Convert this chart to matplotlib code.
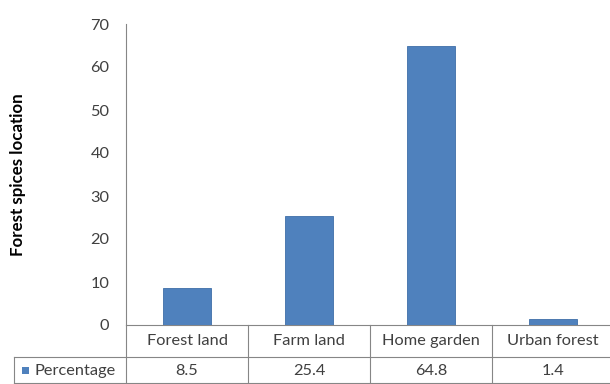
import matplotlib
matplotlib.use("Agg")
import matplotlib.pyplot as plt
from matplotlib.transforms import blended_transform_factory
from matplotlib.patches import Rectangle

categories = ["Forest land", "Farm land", "Home garden", "Urban forest"]
percentage = [8.5, 25.4, 64.8, 1.4]
series_name = "Percentage"
y_ticks = [0, 10, 20, 30, 40, 50, 60, 70]
y_label = "Forest spices location"

plt.rcParams["font.family"] = ["Lato", "DejaVu Sans"]

W, H = 610, 384
fig = plt.figure(figsize=(W / 100, H / 100), dpi=100)

def fx(px):
    return px / W

def fy(py):
    return 1 - py / H

ax_left, ax_right, ax_top, ax_bottom = 126, 614, 24, 325
ax = fig.add_axes([fx(ax_left), fy(ax_bottom), fx(ax_right - ax_left), (ax_bottom - ax_top) / H])

bar_color = "#4F81BD"
text_color = "#404040"
fs = 11.8
x = list(range(len(categories)))
ax.bar(x, percentage, width=0.4, color=bar_color, edgecolor="#3E6EA8", linewidth=0.6, zorder=3)

ax.set_xlim(-0.5, len(categories) - 0.5)
ax.set_ylim(0, 70)
ax.set_yticks(y_ticks)
ax.set_yticklabels([str(t) for t in y_ticks], fontsize=fs, color=text_color)
ax.tick_params(axis="y", length=0, pad=12)
ax.set_xticks([])
for s in ["top", "right"]:
    ax.spines[s].set_visible(False)
for s in ["left", "bottom"]:
    ax.spines[s].set_color("#868686")
    ax.spines[s].set_linewidth(0.8)

fig.text(fx(18), fy(175), y_label, rotation=90, ha="center", va="center",
         fontsize=12.2, fontweight="bold", color="#000000")

# data table below the axes
grid_color = "#868686"
tr = blended_transform_factory(ax.transData, fig.transFigure)
row1_top, row2_top, row2_bottom = 325, 357, 383

def line(xs, ys, transform):
    fig.add_artist(plt.Line2D(xs, ys, transform=transform,
                              color=grid_color, linewidth=0.8, clip_on=False))

line([fx(14), 1.0], [fy(row2_top)] * 2, fig.transFigure)
line([fx(14), 1.0], [fy(row2_bottom)] * 2, fig.transFigure)
line([fx(126)] * 2, [fy(row1_top), fy(H)], fig.transFigure)
line([fx(14)] * 2, [fy(row2_top), fy(row2_bottom)], fig.transFigure)
for i in range(1, len(categories)):
    line([i - 0.5] * 2, [fy(row1_top), fy(row2_bottom)], tr)

for i, (cat, val) in enumerate(zip(categories, percentage)):
    fig.text(i, fy(341), cat, transform=tr, fontsize=fs, color=text_color,
             ha="center", va="center")
    fig.text(i, fy(371), f"{val}", transform=tr, fontsize=fs, color=text_color,
             ha="center", va="center")

fig.add_artist(Rectangle((fx(22), fy(374)), fx(7), 7 / H, transform=fig.transFigure,
                         facecolor=bar_color, edgecolor="none"))
fig.text(fx(34), fy(371), series_name, fontsize=fs, color=text_color,
         ha="left", va="center")

fig.savefig("out.png", dpi=100)
